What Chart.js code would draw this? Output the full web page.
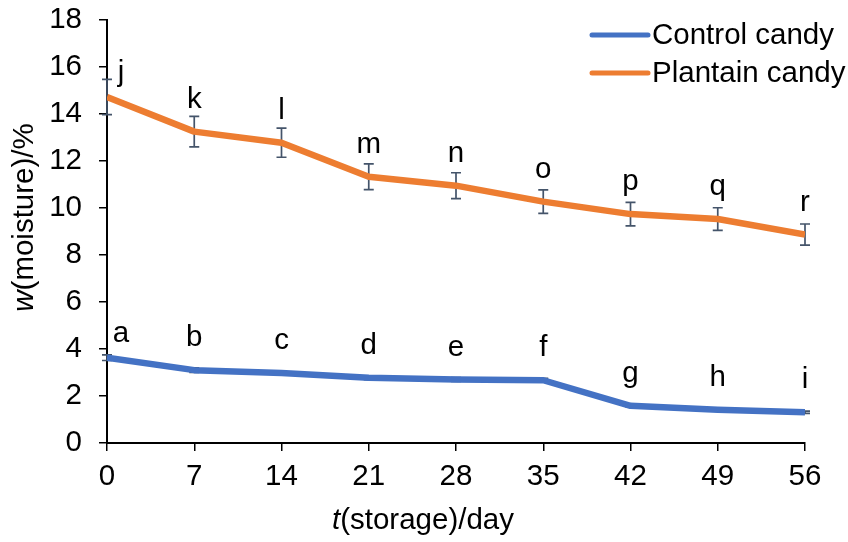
<!DOCTYPE html>
<html>
<head>
<meta charset="utf-8">
<script src="https://cdn.jsdelivr.net/npm/chart.js@4.4.1/dist/chart.umd.min.js"></script>
<style>
  html, body { margin: 0; padding: 0; background: #fff; }
  #wrap { width: 848px; height: 542px; position: relative; }
</style>
</head>
<body>
<div id="wrap"><canvas id="chart" width="848" height="542"></canvas></div>
<script>
// Storage time (days)
const days = [0, 7, 14, 21, 28, 35, 42, 49, 56];

// Moisture content, %
const controlMoisture  = [3.63, 3.10, 2.98, 2.78, 2.70, 2.67, 1.58, 1.42, 1.31];
const plantainMoisture = [14.72, 13.25, 12.78, 11.33, 10.95, 10.27, 9.74, 9.53, 8.87];

// Standard deviations
const controlError  = [0.12, 0.10, 0.09, 0.08, 0.08, 0.08, 0.05, 0.05, 0.05];
const plantainError = [0.75, 0.65, 0.62, 0.55, 0.55, 0.50, 0.50, 0.48, 0.45];

// Significance letters
const controlLetters  = ['a', 'b', 'c', 'd', 'e', 'f', 'g', 'h', 'i'];
const plantainLetters = ['j', 'k', 'l', 'm', 'n', 'o', 'p', 'q', 'r'];

const seriesNames = ['Control candy', 'Plantain candy'];

const FONT = '"Liberation Sans", Arial, sans-serif';
const FONT_SIZE = 29.5;
const BLUE = '#4472C4';
const ORANGE = '#ED7D31';
const ERR_COLOR = '#44546A';

const toPoints = (vals) => days.map((d, i) => ({ x: d, y: vals[i] }));

// Error bars drawn underneath the lines
const errorBars = {
  id: 'errorBars',
  beforeDatasetsDraw(chart) {
    const { ctx, scales: { x, y } } = chart;
    ctx.save();
    ctx.strokeStyle = ERR_COLOR;
    ctx.lineWidth = 1.7;
    chart.data.datasets.forEach((ds) => {
      ds.errors.forEach((e, i) => {
        const px = x.getPixelForValue(days[i]);
        const top = y.getPixelForValue(ds.data[i].y + e);
        const bot = y.getPixelForValue(ds.data[i].y - e);
        ctx.beginPath();
        ctx.moveTo(px, top); ctx.lineTo(px, bot);
        ctx.moveTo(px - 5, top); ctx.lineTo(px + 5, top);
        ctx.moveTo(px - 5, bot); ctx.lineTo(px + 5, bot);
        ctx.stroke();
      });
    });
    ctx.restore();
  }
};

// Letter labels above each point
const letterLabels = {
  id: 'letterLabels',
  afterDatasetsDraw(chart) {
    const { ctx, scales: { x, y } } = chart;
    ctx.save();
    ctx.fillStyle = '#000';
    ctx.font = `${FONT_SIZE}px ${FONT}`;
    ctx.textAlign = 'center';
    ctx.textBaseline = 'alphabetic';
    chart.data.datasets.forEach((ds) => {
      ds.letters.forEach((t, i) => {
        let px = x.getPixelForValue(days[i]);
        let py = y.getPixelForValue(ds.data[i].y) - 24;
        if (i === 0) { px += 14; py += 8; }
        ctx.fillText(t, px, py);
      });
    });
    ctx.restore();
  }
};

// Legend and axis titles
const decorations = {
  id: 'decorations',
  afterDraw(chart) {
    const { ctx, chartArea } = chart;
    ctx.save();
    // legend
    const lx0 = 592, lx1 = 648;
    chart.data.datasets.forEach((ds, i) => {
      const ly = 35 + i * 38;
      ctx.strokeStyle = ds.borderColor;
      ctx.lineWidth = 5;
      ctx.lineCap = 'round';
      ctx.beginPath(); ctx.moveTo(lx0, ly); ctx.lineTo(lx1, ly); ctx.stroke();
      ctx.fillStyle = '#000';
      ctx.font = `${FONT_SIZE}px ${FONT}`;
      ctx.textAlign = 'left';
      ctx.textBaseline = 'middle';
      ctx.fillText(ds.label, lx1 + 4, ly + 1);
    });

    // mixed italic / upright titles
    const drawTitle = (parts, cx, cy, rot) => {
      ctx.save();
      ctx.translate(cx, cy);
      ctx.rotate(rot);
      ctx.textBaseline = 'middle';
      ctx.textAlign = 'left';
      let total = 0;
      parts.forEach(p => { ctx.font = `${p.italic ? 'italic ' : ''}${FONT_SIZE}px ${FONT}`; total += ctx.measureText(p.text).width; });
      let xx = -total / 2;
      ctx.fillStyle = '#000';
      parts.forEach(p => {
        ctx.font = `${p.italic ? 'italic ' : ''}${FONT_SIZE}px ${FONT}`;
        ctx.fillText(p.text, xx, 0);
        xx += ctx.measureText(p.text).width;
      });
      ctx.restore();
    };
    const midX = (chartArea.left + chartArea.right) / 2;
    const midY = (chartArea.top + chartArea.bottom) / 2;
    drawTitle([{ text: 't', italic: true }, { text: '(storage)/day' }], midX - 33, 521, 0);
    drawTitle([{ text: 'w', italic: true }, { text: '(moisture)/%' }], 25, midY - 14, -Math.PI / 2);
    ctx.restore();
  }
};

new Chart(document.getElementById('chart'), {
  type: 'line',
  data: {
    datasets: [
      {
        label: seriesNames[0],
        data: toPoints(controlMoisture),
        errors: controlError,
        letters: controlLetters,
        borderColor: BLUE,
        backgroundColor: BLUE,
        borderWidth: 6.5,
        borderJoinStyle: 'round',
        pointRadius: 0,
        tension: 0
      },
      {
        label: seriesNames[1],
        data: toPoints(plantainMoisture),
        errors: plantainError,
        letters: plantainLetters,
        borderColor: ORANGE,
        backgroundColor: ORANGE,
        borderWidth: 6.5,
        borderJoinStyle: 'round',
        pointRadius: 0,
        tension: 0
      }
    ]
  },
  options: {
    responsive: false,
    animation: false,
    devicePixelRatio: 1,
    layout: { padding: { left: 0, top: 20, right: 43, bottom: 0 } },
    plugins: { legend: { display: false }, tooltip: { enabled: false } },
    scales: {
      x: {
        type: 'linear',
        min: 0, max: 56,
        afterFit(scale) { scale.height = 99; scale.paddingLeft = 0; scale.paddingRight = 0; },
        ticks: { stepSize: 7, color: '#000', font: { family: FONT, size: FONT_SIZE }, padding: 8, maxRotation: 0 },
        grid: { drawOnChartArea: false, drawTicks: true, tickLength: 8, color: '#000', lineWidth: 1.5 },
        border: { color: '#000', width: 2 }
      },
      y: {
        min: 0, max: 18,
        afterFit(scale) { scale.width = 107; scale.paddingTop = 0; scale.paddingBottom = 0; },
        ticks: { stepSize: 2, color: '#000', font: { family: FONT, size: FONT_SIZE }, padding: 17 },
        grid: { drawOnChartArea: false, drawTicks: true, tickLength: 8, color: '#000', lineWidth: 1.5 },
        border: { color: '#000', width: 2 }
      }
    }
  },
  plugins: [errorBars, letterLabels, decorations]
});
</script>
</body>
</html>
